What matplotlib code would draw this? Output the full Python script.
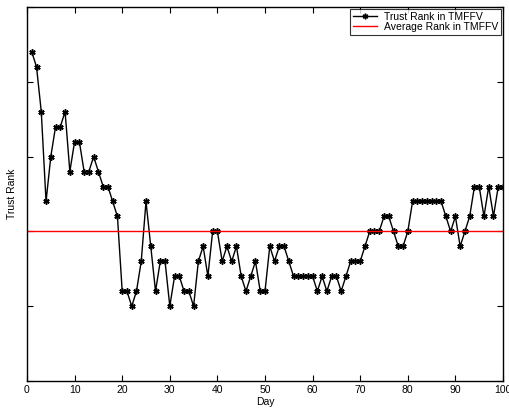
import matplotlib
matplotlib.use("Agg")
import matplotlib.pyplot as plt
import numpy as np

plt.rcParams['font.family'] = ['Liberation Sans', 'DejaVu Sans']

days = list(range(1, 101))
trust_rank = [
    4.4, 4.2, 3.6, 2.4, 3.0, 3.4, 3.4, 3.6, 2.8, 3.2,
    3.2, 2.8, 2.8, 3.0, 2.8, 2.6, 2.6, 2.4, 2.2, 1.2,
    1.2, 1.0, 1.2, 1.6, 2.4, 1.8, 1.2, 1.6, 1.6, 1.0,
    1.4, 1.4, 1.2, 1.2, 1.0, 1.6, 1.8, 1.4, 2.0, 2.0,
    1.6, 1.8, 1.6, 1.8, 1.4, 1.2, 1.4, 1.6, 1.2, 1.2,
    1.8, 1.6, 1.8, 1.8, 1.6, 1.4, 1.4, 1.4, 1.4, 1.4,
    1.2, 1.4, 1.2, 1.4, 1.4, 1.2, 1.4, 1.6, 1.6, 1.6,
    1.8, 2.0, 2.0, 2.0, 2.2, 2.2, 2.0, 1.8, 1.8, 2.0,
    2.4, 2.4, 2.4, 2.4, 2.4, 2.4, 2.4, 2.2, 2.0, 2.2,
    1.8, 2.0, 2.2, 2.6, 2.6, 2.2, 2.6, 2.2, 2.6, 2.6,
]
average_rank = 2.0
x_ticks = [0, 10, 20, 30, 40, 50, 60, 70, 80, 90, 100]
y_ticks = [0, 1, 2, 3, 4, 5]

fig = plt.figure(figsize=(5.1, 4.12), dpi=100)
ax = fig.add_axes([27/510, 1-381/412, 476/510, 374/412])

ax.plot(days, trust_rank, color='black', linewidth=1.0,
        marker=(6, 2, 0), markersize=4.5, markeredgewidth=1.1,
        label='Trust Rank in TMFFV')
ax.plot([0, 100], [average_rank, average_rank], color='#ff0000', linewidth=1.0,
        label='Average Rank in TMFFV')

ax.set_xlim(0, 100)
ax.set_ylim(0, 5)
ax.set_xticks(x_ticks)
ax.set_yticks(y_ticks)
ax.set_yticklabels([])
ax.tick_params(direction='in', top=True, right=True, labelsize=7.5,
               length=4, width=0.8, pad=3)
for s in ax.spines.values():
    s.set_linewidth(1.0)

ax.set_xlabel('Day', fontsize=7.5, labelpad=1)
ax.set_ylabel('Trust Rank', fontsize=7.5, labelpad=4)

leg = ax.legend(loc='upper right', fontsize=7.5, frameon=True, fancybox=False,
                edgecolor='black', borderpad=0.3, labelspacing=0.0,
                handlelength=2.3, handletextpad=0.7, borderaxespad=0.15,
                markerscale=0.9)
leg.get_frame().set_linewidth(0.8)

fig.savefig('out.png', dpi=100)
